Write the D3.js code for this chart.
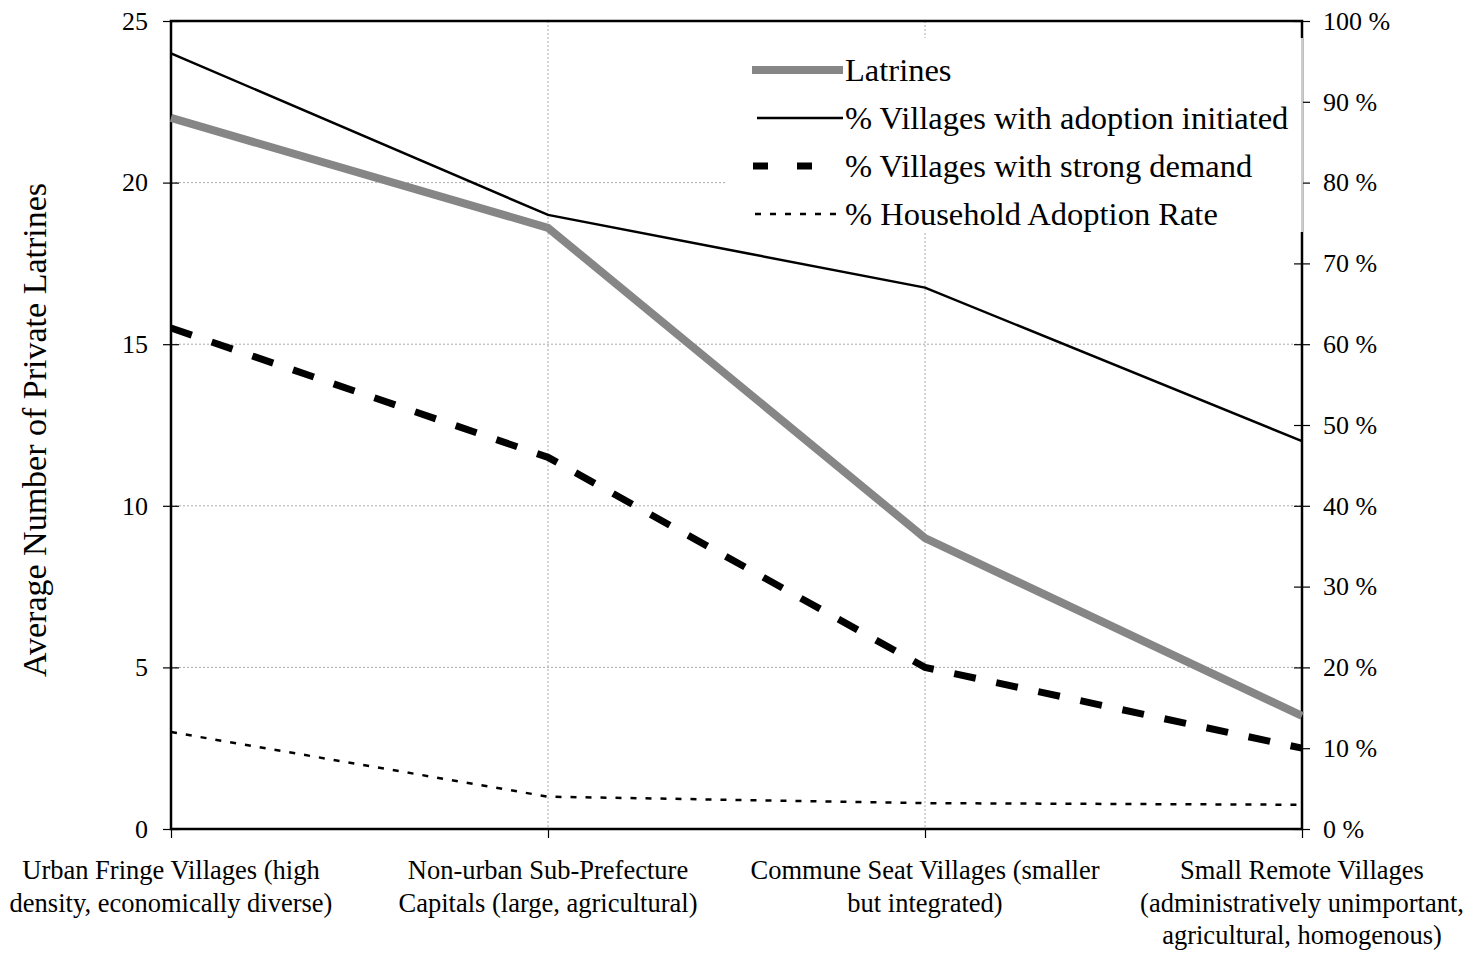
<!DOCTYPE html>
<html><head><meta charset="utf-8">
<script src="https://cdn.jsdelivr.net/npm/d3@7"></script>
<style>body{margin:0;background:#fff}svg{display:block}text{font-family:"Liberation Serif","Times New Roman",serif;fill:#000}</style>
</head><body><svg id="c" width="1476" height="953"></svg>
<script>
const categories = [
  ["Urban Fringe Villages (high","density, economically diverse)"],
  ["Non-urban Sub-Prefecture","Capitals (large, agricultural)"],
  ["Commune Seat Villages (smaller","but integrated)"],
  ["Small Remote Villages","(administratively unimportant,","agricultural, homogenous)"]
];
const latrines = [22, 18.6, 9, 3.5];
const adoptionInitiated = [96, 76, 67, 48];
const strongDemand = [62, 46, 20, 10];
const householdAdoption = [12, 4, 3.2, 3];
const leftTicks = [0,5,10,15,20,25];
const rightTicks = [0,10,20,30,40,50,60,70,80,90,100];

const svg = d3.select("#c");
const L=171, R=1302, T=21, B=829;
const x = d3.scalePoint().domain(d3.range(categories.length)).range([L,R]).padding(0);
const yL = d3.scaleLinear().domain([0,25]).range([B,T]);
const yR = d3.scaleLinear().domain([0,100]).range([B,T]);

// gridlines
const grid = svg.append("g").attr("stroke","#aaa").attr("stroke-width",1).attr("stroke-dasharray","2,2");
grid.selectAll("line.h").data(leftTicks.filter(d=>d>0&&d<25)).join("line")
  .attr("x1",L).attr("x2",R).attr("y1",d=>yL(d)).attr("y2",d=>yL(d));
grid.selectAll("line.v").data([1,2]).join("line").attr("class","v")
  .attr("x1",d=>x(d)).attr("x2",d=>x(d)).attr("y1",T).attr("y2",B);

// axes
const axL = svg.append("g").attr("transform",`translate(${L},0)`)
  .call(d3.axisLeft(yL).tickValues(leftTicks).tickSize(8).tickPadding(15).tickFormat(d3.format("d")));
const axR = svg.append("g").attr("transform",`translate(${R},0)`)
  .call(d3.axisRight(yR).tickValues(rightTicks).tickSize(8).tickPadding(13).tickFormat(d=>d+" %"));
const axB = svg.append("g").attr("transform",`translate(0,${B})`)
  .call(d3.axisBottom(x).tickValues(d3.range(categories.length)).tickSize(9).tickFormat(""));
[axL,axR,axB].forEach(a=>{
  a.select(".domain").remove();
  a.selectAll(".tick line").attr("stroke","#000").attr("stroke-width",1.2);
  a.selectAll(".tick text").style("font-size","26px").style("font-family","Liberation Serif");
});
axL.selectAll(".tick line").attr("x1",8);
axR.selectAll(".tick line").attr("x1",-8);
axB.selectAll(".tick line").attr("y1",0);

// frame
svg.append("rect").attr("x",L).attr("y",T).attr("width",R-L).attr("height",B-T)
  .attr("fill","none").attr("stroke","#000").attr("stroke-width",2.5);

// legend background (masks grid & axis)
const lgX=727, lgY=38, lgW=R-lgX+1, lgH=194;
svg.append("rect").attr("x",lgX).attr("y",lgY).attr("width",lgW).attr("height",lgH).attr("fill","#fff");
svg.append("line").attr("x1",R).attr("x2",R).attr("y1",lgY).attr("y2",lgY+lgH).attr("stroke","#999").attr("stroke-width",1);

// series
const lineL = d3.line().x((d,i)=>x(i)).y(d=>yL(d));
const lineR = d3.line().x((d,i)=>x(i)).y(d=>yR(d));
svg.append("path").datum(householdAdoption).attr("d",lineR).attr("fill","none")
  .attr("stroke","#000").attr("stroke-width",2.5).attr("stroke-dasharray","6,9");
svg.append("path").datum(strongDemand).attr("d",lineR).attr("fill","none")
  .attr("stroke","#000").attr("stroke-width",7).attr("stroke-dasharray","22,21");
svg.append("path").datum(adoptionInitiated).attr("d",lineR).attr("fill","none")
  .attr("stroke","#000").attr("stroke-width",2.5);
svg.append("path").datum(latrines).attr("d",lineL).attr("fill","none")
  .attr("stroke","#868686").attr("stroke-width",8);

// legend
const legendItems = [
  {label:"Latrines", stroke:"#868686", w:8, dash:null, x1:752, x2:843},
  {label:"% Villages with adoption initiated", stroke:"#000", w:2.5, dash:null, x1:757, x2:843},
  {label:"% Villages with strong demand", stroke:"#000", w:7, dash:"15,29", x1:753, x2:812},
  {label:"% Household Adoption Rate", stroke:"#000", w:2.5, dash:"6,9", x1:755, x2:843}
];
const lg = svg.append("g");
legendItems.forEach((d,i)=>{
  const yy = 70 + i*48;
  lg.append("line").attr("x1",d.x1).attr("x2",d.x2).attr("y1",yy).attr("y2",yy)
    .attr("stroke",d.stroke).attr("stroke-width",d.w).attr("stroke-dasharray",d.dash);
  lg.append("text").attr("x",845).attr("y",yy+11).style("font-size","32.5px").text(d.label);
});

// category labels
categories.forEach((lines,i)=>{
  const t = svg.append("text").attr("text-anchor","middle").style("font-size","26.5px");
  lines.forEach((s,j)=>t.append("tspan").attr("x",x(i)).attr("y",879+j*32.5).text(s));
});

// axis title
svg.append("text").attr("transform",`translate(46,430) rotate(-90)`)
  .attr("text-anchor","middle").style("font-size","34px").text("Average Number of Private Latrines");
</script></body></html>
